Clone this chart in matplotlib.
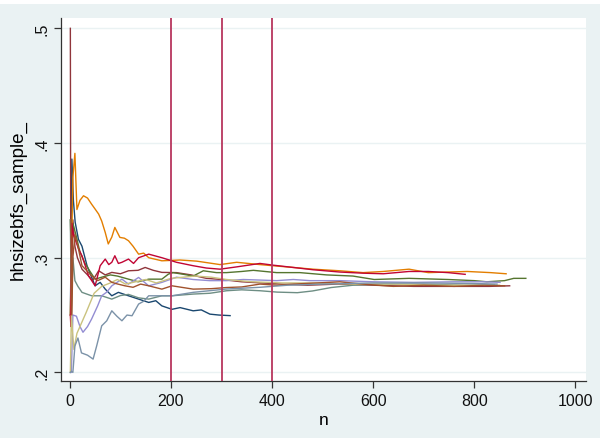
import matplotlib
matplotlib.use("Agg")
import matplotlib.pyplot as plt
from matplotlib.patches import Rectangle

plt.rcParams['font.family'] = ['Liberation Sans', 'DejaVu Sans']

# ==================== 数据（从图上读取的关键点） ====================

navy_n = [1, 3, 4, 7, 10.5, 17, 24, 34, 43, 50, 60, 70, 83, 96, 116, 136, 156, 170, 182, 202, 218, 244, 260,
          277, 295, 317]
navy_v = [.25, .33, .386, .35, .331, .316, .310, .293, .283, .2755, .2785, .2726, .2668, .2698, .2668, .2639,
          .261, .2625, .258, .255, .2565, .2537, .2545, .2508, .250, .2495]

maroon_n = [1, 2, 4, 6, 10, 15, 24, 35, 45, 57, 70, 83, 100, 116, 135, 149, 165, 182, 211, 240, 270, 300,
            340, 380, 420, 470, 530, 600, 680, 760, 830, 870]
maroon_v = [.5, .25, .30, .333, .31, .30, .29, .285, .28, .2886, .285, .2872, .286, .2886, .289, .2915, .289,
            .2872, .287, .285, .282, .281, .279, .278, .277, .276, .277, .276, .275, .275, .275, .2755]

green_n = [1, 3, 6, 12, 20, 30, 40, 50, 63, 80, 94, 116, 135, 156, 182, 195, 204, 225, 244, 264, 290, 310,
           340, 363, 409, 455, 508, 560, 602, 671, 748, 800, 825, 860, 878, 902]
green_v = [.333, .30, .33, .32, .305, .295, .288, .2813, .283, .285, .284, .2813, .279, .2813, .2813, .2857,
           .287, .2855, .284, .2886, .287, .287, .288, .289, .287, .287, .285, .284, .281, .282, .281, .280,
           .279, .280, .282, .282]

orange_n = [1, 3, 6, 10, 14, 20, 27, 35, 43, 50, 57, 63, 70, 76, 83, 89, 99, 108, 116, 125, 136, 146, 156,
            182, 218, 251, 297, 330, 376, 402, 442, 481, 534, 580, 620, 671, 709, 786, 832, 863]
orange_v = [.25, .30, .37, .391, .342, .35, .354, .352, .3467, .3424, .338, .332, .322, .312, .318, .3264,
            .3177, .317, .3148, .310, .3031, .304, .300, .2973, .298, .297, .294, .296, .294, .293, .2915,
            .290, .2886, .287, .288, .290, .287, .288, .287, .286]

teal_n = [1, 3, 6, 10, 16, 24, 43, 63, 83, 100, 116, 136, 156, 182, 202, 244, 277, 310, 340, 376, 410, 450,
          480, 517, 560, 620, 700, 780, 840]
teal_v = [.333, .25, .30, .28, .275, .2698, .2668, .2668, .2639, .267, .268, .265, .2639, .2668, .2668, .2683,
          .269, .2712, .272, .2712, .270, .2695, .271, .274, .276, .277, .277, .276, .2765]

red_n = [1, 2, 4, 7, 10.5, 17, 24, 37, 50, 60, 70, 77, 83, 89, 96, 103, 116, 126, 136, 156, 182, 211, 244,
         270, 297, 330, 376, 402, 442, 481, 534, 580, 620, 671, 709, 748, 782]
red_v = [.25, .24, .33, .32, .316, .308, .3016, .2842, .2755, .293, .2988, .294, .296, .3017, .295, .296,
         .2988, .295, .300, .3031, .300, .296, .293, .291, .290, .292, .295, .2935, .2915, .2895, .2875,
         .2865, .286, .288, .288, .287, .2855]

lavender_n = [1, 3, 6, 13, 20, 26, 35, 43, 55, 63, 73, 83, 103, 116, 136, 156, 182, 211, 244, 277, 310, 343,
              376, 409, 442, 475, 534, 600, 680, 760, 820, 851]
lavender_v = [.2, .2, .25, .249, .24, .235, .24, .2465, .258, .2668, .27, .2755, .2813, .277, .2828, .2755,
              .2785, .283, .281, .280, .280, .281, .2805, .280, .281, .280, .280, .279, .2785, .279, .279, .2785]

khaki_n = [1, 3, 8, 14, 20, 32, 48, 63, 80, 94, 110, 130, 150, 171, 200, 248, 280, 310, 360, 420, 480, 560,
           640, 720, 800, 850]
khaki_v = [.2, .25, .22, .234, .24, .252, .269, .275, .278, .281, .277, .279, .281, .278, .282, .284, .283,
           .281, .279, .278, .278, .277, .277, .276, .276, .276]

sienna_n = [2, 4, 6, 10, 16, 24, 35, 43, 55, 70, 83, 95, 109, 125, 140, 156, 182, 202, 244, 280, 310, 340,
            376, 410, 442, 490, 534, 580, 640, 700, 760, 820, 860]
sienna_v = [.333, .25, .30, .32, .31, .293, .288, .2842, .28, .283, .2785, .277, .2755, .2742, .277, .2755,
            .2726, .2755, .2726, .273, .274, .2745, .277, .276, .277, .278, .279, .277, .275, .276, .275, .276,
            .2755]

emidblue_n = [1, 3, 6, 10, 16, 23, 35, 46, 53, 63, 73, 83, 93, 103, 113, 123, 136, 146, 156, 182, 202, 244,
              310, 376, 430, 500, 600, 700, 800, 845]
emidblue_v = [.2, .201, .2, .223, .23, .217, .215, .2116, .223, .2406, .245, .2537, .249, .245, .250, .2494,
              .2596, .262, .2668, .2668, .2668, .2698, .2727, .2742, .276, .277, .278, .278, .2775, .277]

xlines = [200, 300, 400]
xticks = [0, 200, 400, 600, 800, 1000]
yticks = [.2, .3, .4, .5]
ytick_labels = ['.2', '.3', '.4', '.5']

series = [
    (navy_n, navy_v, '#1a476f'),
    (maroon_n, maroon_v, '#90353b'),
    (green_n, green_v, '#55752f'),
    (orange_n, orange_v, '#e37e00'),
    (teal_n, teal_v, '#6e8e84'),
    (red_n, red_v, '#c10534'),
    (lavender_n, lavender_v, '#938dd2'),
    (khaki_n, khaki_v, '#cac27e'),
    (sienna_n, sienna_v, '#a0522d'),
    (emidblue_n, emidblue_v, '#7b92a8'),
]

# ==================== 绘图 ====================

fig = plt.figure(figsize=(6.11, 4.39), dpi=100, facecolor='white')
# Stata 风格的浅蓝灰背景
fig.patches.append(Rectangle((0, 0), 600 / 611, 1 - 5 / 439, transform=fig.transFigure,
                             facecolor='#eaf2f3', edgecolor='none', zorder=-10))

ax = fig.add_axes([61 / 611, 1 - 382 / 439, (586 - 61) / 611, (382 - 19) / 439])
ax.set_facecolor('white')

for n, v, c in series:
    ax.plot(n, v, color=c, linewidth=1.0)

for xl in xlines:
    ax.axvline(xl, color='#b8365e', linewidth=1.3, zorder=5)

ax.set_xlim(-17.5, 1021)
ax.set_ylim(0.1925, 0.509)
ax.set_xticks(xticks)
ax.set_yticks(yticks)
ax.set_yticklabels(ytick_labels, rotation=90, va='center')
ax.grid(axis='y', color='#eaf2f3', linewidth=1.0)
ax.set_axisbelow(True)

for s in ['top', 'right']:
    ax.spines[s].set_visible(False)
for s in ['left', 'bottom']:
    ax.spines[s].set_color('#333333')
    ax.spines[s].set_linewidth(0.9)
ax.tick_params(direction='out', length=5, width=0.9, color='#333333', labelsize=11.5, labelcolor='#111111')

ax.set_xlabel('n', fontsize=12.5, labelpad=3)
ax.set_ylabel('hhsizebfs_sample_', fontsize=13.5, labelpad=5)

plt.savefig('out.png', dpi=100, facecolor=fig.get_facecolor())
plt.close()
